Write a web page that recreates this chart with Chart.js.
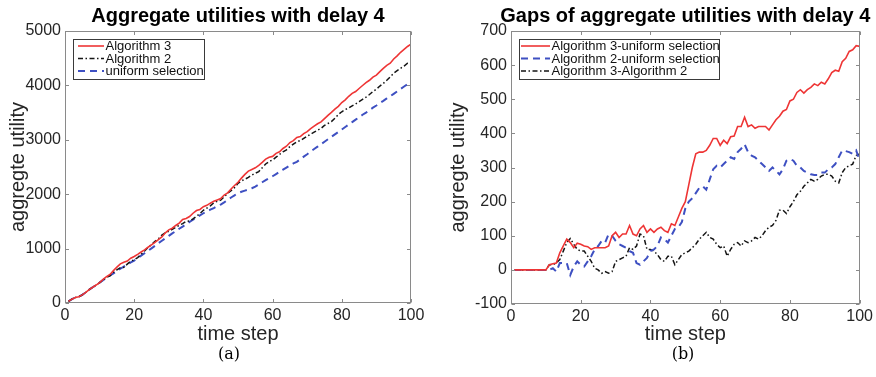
<!DOCTYPE html>
<html><head><meta charset="utf-8">
<script src="https://cdn.jsdelivr.net/npm/chart.js@4"></script>
<style>
html,body{margin:0;padding:0;background:#fff;width:876px;height:377px;overflow:hidden;}
#c1{position:absolute;left:0;top:0;}
#c2{position:absolute;left:440px;top:0;}
.cap{position:absolute;font-family:"DejaVu Serif","Liberation Serif",serif;font-size:16px;color:#000;transform:translateX(-50%);line-height:20px;}
</style></head><body>
<canvas id="c1" width="440" height="377"></canvas>
<canvas id="c2" width="436" height="377"></canvas>
<div class="cap" style="left:229px;top:344px">(a)</div>
<div class="cap" style="left:683px;top:344px">(b)</div>
<script>
const steps = [1,2,3,4,5,6,7,8,9,10,11,12,13,14,15,16,17,18,19,20,21,22,23,24,25,26,27,28,29,30,31,32,33,34,35,36,37,38,39,40,41,42,43,44,45,46,47,48,49,50,51,52,53,54,55,56,57,58,59,60,61,62,63,64,65,66,67,68,69,70,71,72,73,74,75,76,77,78,79,80,81,82,83,84,85,86,87,88,89,90,91,92,93,94,95,96,97,98,99,100];

// (a) aggregate utilities
const alg3 = [30,70,100,115,150,195,245,290,330,375,
  435,483,525,595,660,720,750,770,823,855,
  895,938,975,1025,1070,1115,1165,1215,1290,1345,
  1375,1425,1470,1535,1555,1590,1650,1700,1720,1770,
  1795,1835,1870,1895,1920,1985,2025,2095,2160,2220,
  2295,2365,2425,2455,2485,2530,2585,2645,2680,2695,
  2750,2780,2840,2882,2950,2985,3042,3060,3115,3150,
  3205,3250,3295,3330,3390,3450,3505,3565,3615,3685,
  3735,3800,3853,3888,3943,3998,4051,4094,4152,4190,
  4253,4314,4369,4409,4485,4542,4609,4661,4715,4760];
const alg2 = [30,70,100,115,150,195,245,290,330,375,
  420,470,500,565,610,650,655,715,770,795,
  835,895,955,1020,1075,1135,1180,1250,1290,1320,
  1355,1390,1430,1460,1500,1510,1545,1595,1645,1705,
  1745,1785,1840,1870,1890,1950,2015,2065,2120,2200,
  2245,2275,2310,2350,2385,2415,2485,2555,2600,2630,
  2680,2730,2780,2815,2875,2920,2963,2985,3025,3065,
  3105,3140,3175,3210,3265,3300,3335,3395,3465,3515,
  3555,3585,3625,3660,3700,3743,3784,3832,3887,3930,
  3988,4036,4094,4157,4225,4270,4314,4356,4408,4425];
const uniformSel = [30,70,100,115,150,195,245,290,330,375,
  420,465,505,545,590,630,670,705,745,780,
  825,870,915,960,1005,1050,1100,1145,1190,1235,
  1280,1320,1365,1405,1450,1490,1530,1570,1610,1650,
  1685,1715,1745,1780,1810,1850,1895,1940,1980,2020,
  2045,2065,2085,2110,2140,2180,2220,2260,2295,2330,
  2370,2410,2450,2490,2530,2565,2595,2640,2690,2735,
  2785,2830,2875,2920,2965,3010,3055,3100,3145,3190,
  3235,3280,3325,3370,3415,3460,3500,3545,3590,3630,
  3675,3715,3760,3800,3845,3890,3935,3980,4020,4060];

// (b) gaps
const gap3u = [0,0,0,0,0,0,0,0,0,0,
  15,18,20,50,70,90,80,65,78,75,
  70,68,60,65,65,65,65,70,100,110,
  95,105,105,130,105,100,120,130,110,120,
  110,120,125,115,110,135,130,155,180,200,
  250,300,340,345,345,350,365,385,385,365,
  380,370,390,392,420,420,447,420,425,415,
  420,420,420,410,425,440,450,465,470,495,
  500,520,528,518,528,535,545,540,550,545,
  560,578,585,582,610,620,640,645,657,655];
const gap2u = [0,0,0,0,0,0,0,0,0,0,
  0,5,-5,20,20,20,-15,10,25,15,
  10,25,40,60,70,85,80,105,100,85,
  75,70,65,55,50,20,15,25,35,55,
  60,70,95,90,80,100,120,125,140,180,
  200,210,225,240,245,235,265,295,305,300,
  310,320,330,325,345,355,368,345,335,330,
  320,310,300,290,300,290,280,295,320,325,
  320,305,300,290,285,280,278,278,285,285,
  295,300,310,330,350,348,345,340,350,320];
const gap32 = [0,0,0,0,0,0,0,0,0,0,
  15,15,20,30,55,80,92,75,60,55,
  55,40,25,5,0,-10,-5,-10,-5,25,
  30,35,40,65,60,70,105,100,60,60,
  55,45,30,25,40,40,15,30,45,50,
  55,65,75,90,100,110,95,90,75,65,
  70,40,60,75,80,70,85,80,85,95,
  90,100,115,125,130,145,175,175,165,185,
  200,220,230,245,255,265,260,265,275,280,
  280,275,260,255,285,300,305,310,335,340];

const xTicksA = [0,20,40,60,80,100];
const yTicksA = [0,1000,2000,3000,4000,5000];
const yTicksB = [-100,0,100,200,300,400,500,600,700];

const FONT = '"Liberation Sans", Arial, Helvetica, sans-serif';
const RED = '#ee3535', BLUE = '#3e50c2', BLACK = '#151515';
const styles = {
  red:   {borderColor: RED, borderWidth: 1.6, borderDash: []},
  blue:  {borderColor: BLUE, borderWidth: 2, borderDash: [7, 5]},
  black: {borderColor: BLACK, borderWidth: 1.5, borderDash: [5, 2.5, 1.5, 2.5]}
};

function pts(ys){ return steps.map((x,i)=>({x:x, y:ys[i]})); }

const decor = {
  id: 'decor',
  afterDraw(chart, args, opts){
    const ctx = chart.ctx, a = chart.chartArea;
    const xs = chart.scales.x, ys = chart.scales.y;
    ctx.save();
    ctx.strokeStyle = '#8a8a8a'; ctx.lineWidth = 1; ctx.setLineDash([]);
    const L = Math.round(a.left)+0.5, R = Math.round(a.right)-0.5, T = Math.round(a.top)+0.5, B = Math.round(a.bottom)-0.5;
    ctx.strokeRect(L, T, R-L, B-T);
    const tl = 3.5;
    ctx.beginPath();
    xs.ticks.forEach(t => {
      const px = Math.round(xs.getPixelForValue(t.value))+0.5;
      ctx.moveTo(px, B); ctx.lineTo(px, B - tl);
      ctx.moveTo(px, T); ctx.lineTo(px, T + tl);
    });
    ys.ticks.forEach(t => {
      const py = Math.round(ys.getPixelForValue(t.value))+0.5;
      ctx.moveTo(L, py); ctx.lineTo(L + tl, py);
      ctx.moveTo(R, py); ctx.lineTo(R - tl, py);
    });
    ctx.stroke();
    ctx.fillStyle = '#000';
    ctx.font = 'bold 20px ' + FONT;
    ctx.textAlign = 'center'; ctx.textBaseline = 'middle';
    ctx.fillText(opts.title, (a.left + a.right)/2, 16);
    const lg = opts.legend;
    ctx.fillStyle = '#fff';
    ctx.fillRect(lg.x, lg.y, lg.w, lg.h);
    ctx.strokeStyle = '#3a3a3a'; ctx.lineWidth = 1;
    ctx.strokeRect(lg.x + 0.5, lg.y + 0.5, lg.w, lg.h);
    ctx.font = '13px ' + FONT;
    ctx.textAlign = 'left';
    chart.data.datasets.forEach((ds, i) => {
      const y = lg.rowY[i];
      ctx.strokeStyle = ds.borderColor; ctx.lineWidth = ds.borderWidth;
      ctx.setLineDash(ds.borderDash || []);
      ctx.beginPath(); ctx.moveTo(lg.s0, y); ctx.lineTo(lg.s1, y); ctx.stroke();
      ctx.setLineDash([]);
      ctx.fillStyle = '#111';
      ctx.fillText(ds.label, lg.tx, y + 0.5);
    });
    ctx.restore();
  }
};

function makeChart(id, datasets, cfg){
  return new Chart(document.getElementById(id), {
    type: 'line',
    data: { datasets: datasets },
    plugins: [decor],
    options: {
      responsive: false, animation: false, devicePixelRatio: 1,
      layout: { padding: { left: 0, top: 31, right: cfg.padRight, bottom: 0 } },
      elements: { point: { radius: 0 }, line: { tension: 0, borderCapStyle: 'butt' } },
      plugins: {
        legend: { display: false }, tooltip: { enabled: false }, title: { display: false },
        decor: { title: cfg.title, legend: cfg.legend }
      },
      scales: {
        x: {
          type: 'linear', min: 0, max: 100,
          afterBuildTicks: s => { s.ticks = cfg.xTicks.map(v => ({value: v})); },
          afterFit: s => { s.height = cfg.xHeight; },
          grid: { display: false, drawTicks: false }, border: { display: false },
          ticks: { font: { size: 16, family: FONT }, color: '#262626', padding: 3, maxRotation: 0, autoSkip: false, callback: v => String(v) },
          title: { display: true, text: 'time step', font: { size: 20, family: FONT }, color: '#262626', padding: { top: 0, bottom: 31 } }
        },
        y: {
          type: 'linear', min: cfg.yMin, max: cfg.yMax,
          afterBuildTicks: s => { s.ticks = cfg.yTicks.map(v => ({value: v})); },
          afterFit: s => { s.width = cfg.yWidth; },
          grid: { display: false, drawTicks: false }, border: { display: false },
          ticks: { font: { size: 16, family: FONT }, color: '#262626', padding: 4, autoSkip: false, callback: v => String(v) },
          title: { display: true, text: 'aggregte utility', font: { size: 20, family: FONT }, color: '#262626', padding: { top: 6, bottom: 0 } }
        }
      }
    }
  });
}

makeChart('c1', [
  Object.assign({label: 'Algorithm 3', data: pts(alg3), fill: false}, styles.red),
  Object.assign({label: 'Algorithm 2', data: pts(alg2), fill: false}, styles.black),
  Object.assign({label: 'uniform selection', data: pts(uniformSel), fill: false}, styles.blue)
], {
  title: 'Aggregate utilities with delay 4', padRight: 29, xHeight: 74, yWidth: 65,
  yMin: 0, yMax: 5000, xTicks: xTicksA, yTicks: yTicksA,
  legend: { x: 73, y: 39, w: 131, h: 40, rowY: [46, 58.5, 71], s0: 78, s1: 104, tx: 105.5 }
});

makeChart('c2', [
  Object.assign({label: 'Algorithm 3-uniform selection', data: pts(gap3u), fill: false}, styles.red),
  Object.assign({label: 'Algorithm 2-uniform selection', data: pts(gap2u), fill: false}, styles.blue),
  Object.assign({label: 'Algorithm 3-Algorithm 2', data: pts(gap32), fill: false}, styles.black)
], {
  title: 'Gaps of aggregate utilities with delay 4', padRight: 16, xHeight: 73, yWidth: 71,
  yMin: -100, yMax: 700, xTicks: xTicksA, yTicks: yTicksB,
  legend: { x: 79, y: 39, w: 200, h: 40, rowY: [46, 58.5, 71], s0: 81, s1: 110, tx: 111.5 }
});
</script>
</body></html>
